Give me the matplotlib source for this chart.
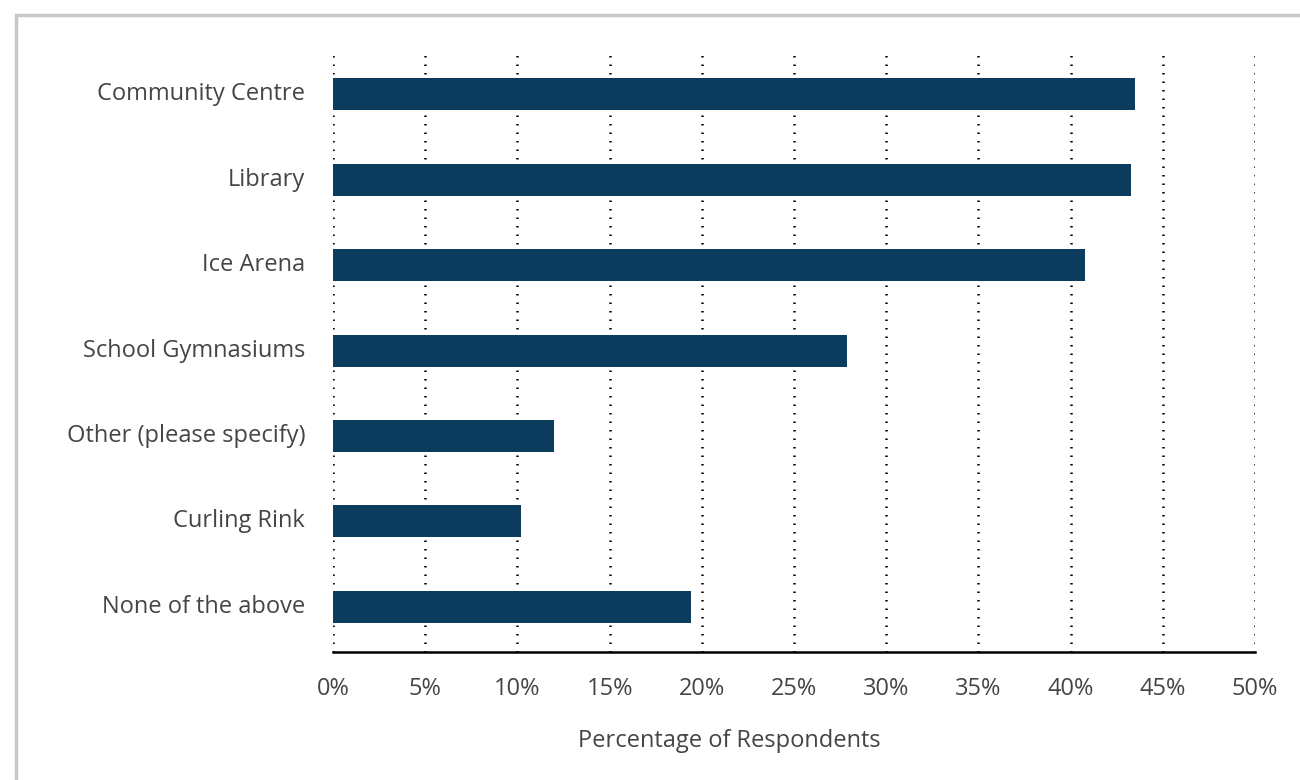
import matplotlib.pyplot as plt
from matplotlib.patches import Rectangle
from matplotlib.ticker import FuncFormatter

categories = ['Community Centre', 'Library', 'Ice Arena', 'School Gymnasiums',
              'Other (please specify)', 'Curling Rink', 'None of the above']
values = [43.5, 43.3, 40.8, 27.9, 12.0, 10.2, 19.4]
x_ticks = [0, 5, 10, 15, 20, 25, 30, 35, 40, 45, 50]

plt.rcParams['font.family'] = ['Open Sans', 'DejaVu Sans']
text_color = '#454545'

fig = plt.figure(figsize=(13, 7.8), dpi=100)
ax = fig.add_axes([333 / 1300, 1 - 652 / 780, (1255 - 333) / 1300, (652 - 50) / 780])

# light grey frame around the chart
fig.patches.append(Rectangle((16 / 1300, -0.1), 1.2, 1 - 15 / 780 + 0.1,
                             transform=fig.transFigure, fill=False,
                             edgecolor='#c8c8c8', linewidth=2.5))

y = list(range(len(categories)))
ax.barh(y, values, height=0.375, color='#0b3c5d', zorder=3)

ax.set_xlim(0, 50)
ax.set_ylim(len(categories) - 0.47, -0.52)
ax.set_yticks(y)
ax.set_yticklabels(categories, fontsize=17, color=text_color, va='center')
ax.set_xticks(x_ticks)
ax.xaxis.set_major_formatter(FuncFormatter(lambda v, p: f'{v:.0f}%'))
ax.tick_params(axis='x', labelsize=17, labelcolor=text_color, length=0, pad=18)
ax.tick_params(axis='y', length=0, pad=20)

for t in x_ticks:
    ax.axvline(t, color='black', linewidth=1.8, linestyle=(0, (0.6, 2.8)), zorder=1)

for s in ['top', 'right', 'left']:
    ax.spines[s].set_visible(False)
ax.spines['bottom'].set_linewidth(1.8)
ax.spines['bottom'].set_color('black')
ax.spines['bottom'].set_zorder(4)

ax.set_xlabel('Percentage of Respondents', fontsize=17, color=text_color)
ax.xaxis.set_label_coords(0.43, -0.128)

fig.savefig('out.png', dpi=100)
